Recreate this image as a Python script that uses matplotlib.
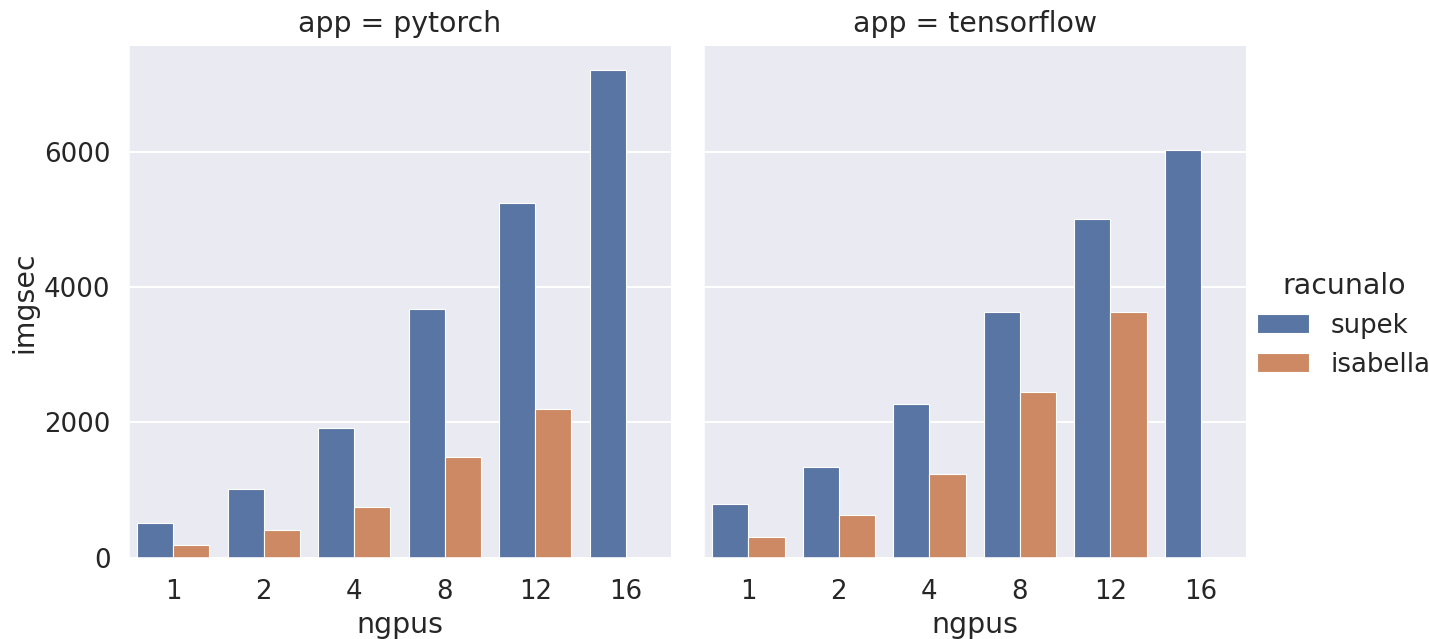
import matplotlib
matplotlib.use("Agg")
import matplotlib.pyplot as plt
import numpy as np
import pandas as pd
import seaborn as sns

ngpus = [1, 2, 4, 8, 12, 16]
apps = ["pytorch", "tensorflow"]
machines = ["supek", "isabella"]

pytorch_supek = [510, 1022, 1920, 3676, 5242, 7202]
pytorch_isabella = [185, 409, 758, 1491, 2204, np.nan]
tensorflow_supek = [793, 1345, 2266, 3635, 5005, 6025]
tensorflow_isabella = [310, 631, 1246, 2453, 3635, np.nan]
yticks = [0, 2000, 4000, 6000]

values = {
    ("pytorch", "supek"): pytorch_supek,
    ("pytorch", "isabella"): pytorch_isabella,
    ("tensorflow", "supek"): tensorflow_supek,
    ("tensorflow", "isabella"): tensorflow_isabella,
}

rows = []
for app in apps:
    for m in machines:
        for n, v in zip(ngpus, values[(app, m)]):
            rows.append({"app": app, "racunalo": m, "ngpus": n, "imgsec": v})
df = pd.DataFrame(rows)

sns.set_theme(context="talk", style="darkgrid", font_scale=1.133)
plt.rcParams["axes.titlepad"] = 10

g = sns.catplot(data=df, x="ngpus", y="imgsec", hue="racunalo", col="app",
                kind="bar", errorbar=None, order=ngpus, hue_order=machines,
                col_order=apps, linewidth=0.8)
g.figure.set_size_inches(14.29, 6.39)
g.figure.subplots_adjust(left=0.0896, right=0.872, top=0.928, bottom=0.127,
                         wspace=0.059)
for ax in g.axes.flat:
    ax.set_yticks(yticks)
    ax.tick_params(axis="x", pad=6.5)
sns.move_legend(g, "center left", bbox_to_anchor=(0.8636, 0.492), frameon=False)

g.figure.savefig("out.png", dpi=100)
